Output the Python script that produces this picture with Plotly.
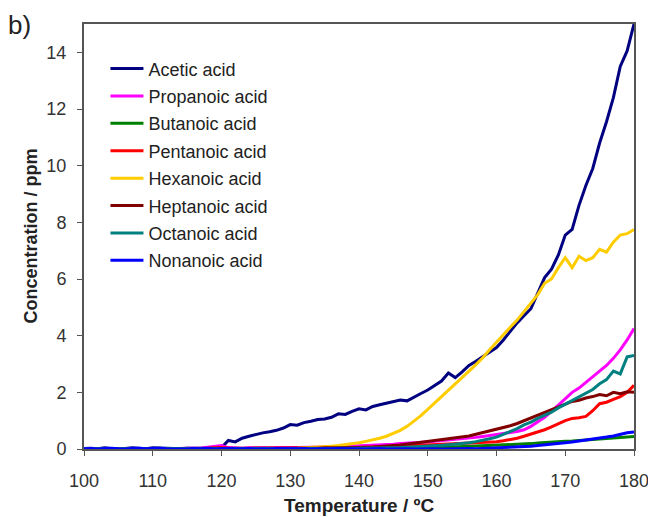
import plotly.graph_objects as go

temperature = list(range(100, 181))

acetic = [
    0.02, 0.03, 0.01, 0.04, 0.02, 0.00, 0.02, 0.04, 0.03, 0.01,
    0.04, 0.03, 0.02, 0.00, 0.01, 0.03, 0.02, 0.03, 0.04, 0.01,
    0.05, 0.30, 0.25, 0.38, 0.45, 0.52, 0.57, 0.61, 0.66, 0.74,
    0.86, 0.84, 0.93, 0.98, 1.04, 1.06, 1.12, 1.24, 1.22, 1.33,
    1.42, 1.38, 1.50, 1.56, 1.62, 1.68, 1.73, 1.70, 1.84, 1.96,
    2.08, 2.24, 2.40, 2.68, 2.52, 2.72, 2.95, 3.10, 3.25, 3.40,
    3.58, 3.85, 4.15, 4.45, 4.70, 4.95, 5.50, 6.05, 6.35, 6.85,
    7.55, 7.75, 8.60, 9.30, 9.90, 10.80, 11.55, 12.40, 13.50, 14.05,
    15.00,
]
propanoic = [
    0.01, 0.02, 0.01, 0.02, 0.01, 0.02, 0.01, 0.02, 0.01, 0.02,
    0.01, 0.02, 0.02, 0.01, 0.02, 0.03, 0.02, 0.03, 0.06, 0.09,
    0.12, 0.05, 0.03, 0.03, 0.04, 0.03, 0.04, 0.04, 0.05, 0.04,
    0.05, 0.05, 0.06, 0.05, 0.06, 0.07, 0.07, 0.08, 0.08, 0.09,
    0.10, 0.11, 0.12, 0.14, 0.15, 0.17, 0.19, 0.20, 0.22, 0.24,
    0.25, 0.27, 0.29, 0.31, 0.33, 0.35, 0.38, 0.41, 0.44, 0.47,
    0.50, 0.54, 0.58, 0.62, 0.68, 0.80, 0.95, 1.12, 1.33, 1.55,
    1.80, 2.00, 2.15, 2.35, 2.55, 2.75, 2.95, 3.20, 3.50, 3.85,
    4.25,
]
butanoic = [
    0.01, 0.02, 0.01, 0.01, 0.02, 0.01, 0.02, 0.01, 0.01, 0.02,
    0.01, 0.02, 0.01, 0.02, 0.01, 0.01, 0.02, 0.01, 0.02, 0.01,
    0.02, 0.01, 0.02, 0.02, 0.01, 0.02, 0.01, 0.02, 0.02, 0.01,
    0.02, 0.02, 0.01, 0.02, 0.02, 0.02, 0.01, 0.02, 0.02, 0.02,
    0.02, 0.02, 0.03, 0.02, 0.03, 0.02, 0.03, 0.03, 0.02, 0.03,
    0.03, 0.04, 0.05, 0.05, 0.06, 0.07, 0.08, 0.09, 0.10, 0.11,
    0.12, 0.13, 0.15, 0.16, 0.18, 0.19, 0.21, 0.23, 0.24, 0.26,
    0.27, 0.28, 0.30, 0.31, 0.33, 0.34, 0.36, 0.38, 0.40, 0.42,
    0.44,
]
pentanoic = [
    0.01, 0.02, 0.01, 0.02, 0.01, 0.01, 0.02, 0.01, 0.02, 0.01,
    0.02, 0.01, 0.02, 0.01, 0.02, 0.02, 0.01, 0.02, 0.03, 0.04,
    0.05, 0.03, 0.02, 0.03, 0.02, 0.03, 0.03, 0.02, 0.03, 0.03,
    0.03, 0.04, 0.03, 0.04, 0.04, 0.03, 0.04, 0.04, 0.05, 0.04,
    0.05, 0.06, 0.06, 0.07, 0.08, 0.09, 0.10, 0.11, 0.12, 0.13,
    0.14, 0.15, 0.16, 0.17, 0.18, 0.19, 0.20, 0.21, 0.22, 0.24,
    0.26, 0.29, 0.33, 0.38, 0.45, 0.52, 0.60, 0.68, 0.78, 0.90,
    1.00, 1.08, 1.10, 1.15, 1.35, 1.60, 1.65, 1.75, 1.85, 2.00,
    2.25,
]
hexanoic = [
    0.01, 0.00, 0.01, 0.02, 0.01, 0.00, 0.01, 0.02, 0.01, 0.01,
    0.00, 0.01, 0.02, 0.01, 0.00, 0.01, 0.01, 0.02, 0.01, 0.01,
    0.02, 0.01, 0.02, 0.01, 0.02, 0.02, 0.01, 0.02, 0.02, 0.03,
    0.03, 0.03, 0.04, 0.05, 0.06, 0.08, 0.10, 0.12, 0.15, 0.18,
    0.22, 0.27, 0.32, 0.38, 0.45, 0.55, 0.66, 0.80, 0.98, 1.18,
    1.40, 1.62, 1.85, 2.08, 2.30, 2.52, 2.75, 2.98, 3.22, 3.50,
    3.78, 4.02, 4.30, 4.55, 4.85, 5.15, 5.45, 5.85, 6.00, 6.40,
    6.75, 6.40, 6.80, 6.65, 6.75, 7.05, 6.95, 7.30, 7.55, 7.60,
    7.75,
]
heptanoic = [
    0.01, 0.01, 0.02, 0.01, 0.01, 0.02, 0.01, 0.01, 0.02, 0.01,
    0.01, 0.02, 0.01, 0.02, 0.01, 0.01, 0.02, 0.01, 0.02, 0.02,
    0.02, 0.02, 0.01, 0.02, 0.02, 0.02, 0.02, 0.03, 0.02, 0.02,
    0.03, 0.02, 0.03, 0.03, 0.03, 0.04, 0.03, 0.04, 0.04, 0.04,
    0.05, 0.06, 0.07, 0.08, 0.10, 0.12, 0.14, 0.17, 0.20, 0.23,
    0.26, 0.29, 0.32, 0.35, 0.38, 0.42, 0.46, 0.52, 0.58, 0.63,
    0.68, 0.75, 0.82, 0.90, 1.00, 1.08, 1.18, 1.28, 1.40, 1.50,
    1.58, 1.68, 1.72, 1.80, 1.85, 1.92, 1.88, 2.00, 1.95, 2.02,
    2.00,
]
octanoic = [
    0.01, 0.01, 0.00, 0.01, 0.01, 0.02, 0.01, 0.00, 0.01, 0.01,
    0.01, 0.02, 0.01, 0.01, 0.00, 0.01, 0.01, 0.02, 0.01, 0.01,
    0.01, 0.01, 0.02, 0.01, 0.01, 0.02, 0.01, 0.02, 0.01, 0.02,
    0.02, 0.02, 0.01, 0.02, 0.02, 0.02, 0.02, 0.03, 0.02, 0.03,
    0.03, 0.03, 0.03, 0.04, 0.03, 0.04, 0.05, 0.06, 0.07, 0.08,
    0.10, 0.11, 0.13, 0.15, 0.17, 0.19, 0.22, 0.26, 0.30, 0.36,
    0.42, 0.52, 0.62, 0.72, 0.85, 0.95, 1.08, 1.18, 1.30, 1.45,
    1.58, 1.72, 1.85, 1.98, 2.10, 2.30, 2.45, 2.75, 2.65, 3.25,
    3.30,
]
nonanoic = [
    0.01, 0.02, 0.00, 0.02, 0.03, 0.01, 0.00, 0.02, 0.03, 0.01,
    0.02, 0.03, 0.01, 0.00, 0.01, 0.00, 0.02, 0.01, 0.03, 0.00,
    0.02, 0.01, 0.00, 0.01, 0.02, 0.00, 0.01, 0.00, 0.02, 0.01,
    0.00, 0.01, 0.02, 0.00, 0.01, 0.00, 0.01, 0.02, 0.01, 0.00,
    0.01, 0.00, 0.01, 0.02, 0.00, 0.01, 0.00, 0.01, 0.00, 0.01,
    0.00, 0.01, 0.00, 0.01, 0.00, 0.01, 0.02, 0.01, 0.02, 0.02,
    0.03, 0.04, 0.05, 0.06, 0.08, 0.10, 0.12, 0.14, 0.17, 0.20,
    0.22, 0.25, 0.28, 0.31, 0.34, 0.38, 0.42, 0.46, 0.52, 0.57,
    0.60,
]

series_names = ["Acetic acid", "Propanoic acid", "Butanoic acid", "Pentanoic acid",
                "Hexanoic acid", "Heptanoic acid", "Octanoic acid", "Nonanoic acid"]
series_values = [acetic, propanoic, butanoic, pentanoic, hexanoic, heptanoic, octanoic, nonanoic]
series_colors = ["#000080", "#FF00FF", "#008000", "#FF0000",
                 "#FFCC00", "#800000", "#008080", "#0000FF"]

x_ticks = [100, 110, 120, 130, 140, 150, 160, 170, 180]
y_ticks = [0, 2, 4, 6, 8, 10, 12, 14]
x_title = "Temperature / ºC"
y_title = "Concentration / ppm"

FONT = "Liberation Sans, Arial, sans-serif"

fig = go.Figure()
for name, vals, col in zip(series_names, series_values, series_colors):
    fig.add_trace(go.Scatter(
        x=temperature, y=vals, mode="lines", name=name, legendgroup=name,
        line=dict(color=col, width=3),
    ))

# page body has an 8px margin, so the figure is drawn at (8, 8)
fig.update_layout(
    width=648, height=509,
    margin=dict(l=76, r=22, t=16, b=68),
    plot_bgcolor="white", paper_bgcolor="white",
    font=dict(family=FONT, color="#222222"),
    showlegend=True,
    legend=dict(
        x=0.039, y=0.938, xanchor="left", yanchor="top",
        bgcolor="rgba(0,0,0,0)", font=dict(family=FONT, size=18, color="#222222"),
        tracegroupgap=1, traceorder="grouped", itemwidth=33,
    ),
    xaxis=dict(
        range=[100, 180], tickvals=x_ticks, ticks="outside", ticklen=5,
        tickcolor="#555555", showgrid=False, zeroline=False, automargin=False,
        showline=True, linecolor="#555555", linewidth=2, mirror=True,
        ticklabelstandoff=9, ticklabeloverflow="allow",
        tickfont=dict(family=FONT, size=18, color="#333333"),
    ),
    yaxis=dict(
        range=[0, 15], tickvals=y_ticks, ticks="outside", ticklen=5,
        tickcolor="#555555", showgrid=False, zeroline=False, automargin=False,
        showline=True, linecolor="#555555", linewidth=2, mirror=True,
        ticklabelstandoff=7, ticklabeloverflow="allow",
        tickfont=dict(family=FONT, size=18, color="#333333"),
    ),
)

fig.add_annotation(
    text="<b>" + x_title + "</b>", xref="paper", yref="paper", x=0.5, y=-0.132,
    xanchor="center", yanchor="middle", showarrow=False,
    font=dict(family=FONT, size=19, color="#222222"),
)
fig.add_annotation(
    text="<b>" + y_title + "</b>", xref="paper", yref="paper", x=-0.098, y=0.5,
    xanchor="center", yanchor="middle", showarrow=False, textangle=-90,
    font=dict(family=FONT, size=18, color="#222222"),
)
fig.add_annotation(
    text="b)", xref="paper", yref="paper", x=-0.142, y=0.997,
    xanchor="left", yanchor="middle", showarrow=False,
    font=dict(family=FONT, size=26, color="#222222"),
)

fig.write_html("out.html")
